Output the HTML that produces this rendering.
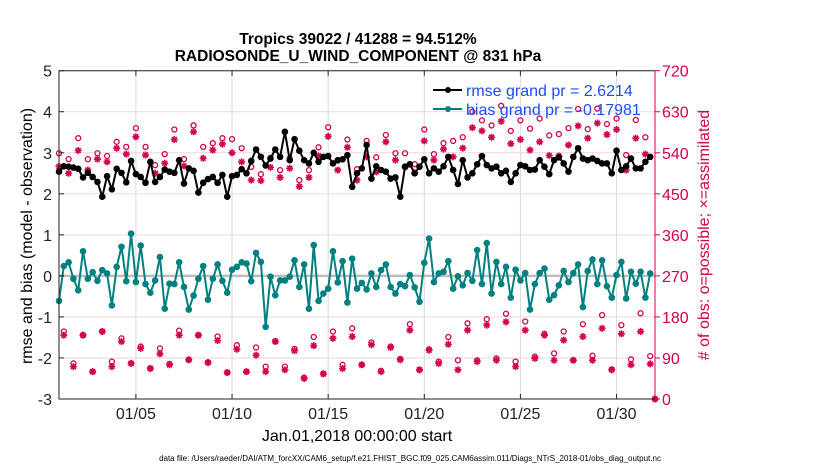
<!DOCTYPE html>
<html><head><meta charset="utf-8"><style>
html,body{margin:0;padding:0;background:#fff;}
svg{display:block;font-family:"Liberation Sans",sans-serif;}
</style></head><body>
<svg id="chart" width="830" height="470" viewBox="0 0 830 470" xmlns="http://www.w3.org/2000/svg">
<g id="grid"></g>
<g id="marks"></g>
<g id="axes"></g>
<text x="358" y="44" text-anchor="middle" font-size="15.5" font-weight="bold">Tropics 39022 / 41288 = 94.512%</text>
<text x="358" y="61" text-anchor="middle" font-size="15.5" font-weight="bold">RADIOSONDE_U_WIND_COMPONENT @ 831 hPa</text>
<text x="357" y="441" text-anchor="middle" font-size="16">Jan.01,2018 00:00:00 start</text>
<text transform="translate(32,236) rotate(-90)" text-anchor="middle" font-size="16">rmse and bias (model - observation)</text>
<text transform="translate(709,235) rotate(-90)" text-anchor="middle" font-size="16" fill="#d4004e"># of obs: o=possible; ×=assimilated</text>
<text x="410" y="461" text-anchor="middle" font-size="8">data file: /Users/raeder/DAI/ATM_forcXX/CAM6_setup/f.e21.FHIST_BGC.f09_025.CAM6assim.011/Diags_NTrS_2018-01/obs_diag_output.nc</text>
<g>
<line x1="433" y1="90" x2="462" y2="90" stroke="#000" stroke-width="2"/><circle cx="448" cy="90" r="3" fill="#000"/>
<text x="466" y="96" font-size="16" fill="#1a4dff">rmse grand pr = 2.6214</text>
<line x1="433" y1="109" x2="462" y2="109" stroke="#008080" stroke-width="2"/><circle cx="448" cy="109" r="3" fill="#008080"/>
<text x="466" y="115" font-size="16" fill="#1a4dff">bias grand pr = -0.17981</text>
</g>
</svg>
<script>
const rmse=[2.54,2.67,2.66,2.64,2.61,2.40,2.51,2.41,2.29,1.93,2.43,2.11,2.61,2.51,2.28,2.80,2.48,2.41,2.27,2.78,2.29,2.41,2.59,2.54,2.51,2.82,2.25,2.62,2.56,2.03,2.27,2.36,2.41,2.27,2.46,1.93,2.43,2.46,2.60,2.50,2.80,3.08,
2.90,2.69,2.86,3.08,2.90,3.51,2.82,3.33,3.05,2.82,2.74,3.00,2.78,2.90,2.92,2.74,2.82,2.84,2.94,2.17,2.50,2.62,3.19,2.37,2.67,2.58,2.54,2.37,2.40,1.93,2.66,2.72,2.50,2.66,2.84,2.50,2.62,2.54,2.67,2.90,2.58,2.24,
2.82,2.40,2.50,2.72,2.92,2.70,2.62,2.66,2.50,2.56,2.29,2.50,2.70,2.67,2.58,2.59,2.82,2.66,2.48,2.82,2.89,2.74,2.54,2.90,3.11,2.86,2.82,2.86,2.80,2.74,2.74,2.50,3.05,2.58,2.67,2.86,2.62,2.62,2.78,2.90];
const bias=[-0.61,0.24,0.33,-0.07,-0.35,0.60,-0.07,0.09,-0.12,0.14,0.06,-0.72,0.22,0.71,-0.13,1.03,-0.15,0.74,-0.20,-0.41,-0.11,0.46,-0.80,-0.19,-0.20,0.33,-0.27,-0.82,-0.48,-0.07,0.24,-0.58,-0.07,0.28,-0.12,-0.41,0.15,0.22,0.33,0.30,-0.13,0.56,
0.34,-1.24,-0.02,-0.47,-0.11,-0.11,-0.02,0.38,-0.27,0.28,-0.80,0.75,-0.61,-0.43,-0.31,0.60,-0.16,0.36,-0.65,0.42,-0.31,-0.17,-0.33,0.06,-0.27,0.14,0.28,-0.27,-0.43,-0.20,-0.25,0.02,-0.28,-0.63,0.32,0.91,-0.15,0.06,0.10,0.36,-0.31,-0.01,
-0.23,0.07,-0.12,0.63,-0.20,0.80,-0.43,0.34,-0.20,0.22,-0.53,0.15,-0.11,0.07,-0.82,-0.20,0.07,0.18,-0.58,-0.47,-0.23,0.12,-0.15,0.07,0.28,-0.76,0.12,0.40,-0.20,0.38,-0.25,-0.53,0.02,0.34,-0.55,0.10,-0.19,0.10,-0.53,0.06];
const possible=[539,148,526,78,572,140,526,60,539,148,533,82,564,133,553,78,594,115,553,67,513,111,537,77,591,150,526,86,600,140,553,80,561,137,572,58,570,118,550,60,509,113,493,71,529,127,502,71,528,110,480,47,502,136,552,56,596,148,523,75,569,155,504,75,566,124,530,62,579,115,539,88,539,164,515,64,591,109,537,82,561,136,566,85,574,166,630,85,611,175,600,89,643,187,588,82,611,170,593,93,615,143,578,100,581,148,594,85,636,164,592,95,637,184,603,65,615,162,535,87,612,188,574,94,0];
const assimilated=[510,140,495,71,545,140,502,60,526,148,520,71,550,126,537,78,575,111,535,67,495,99,517,75,569,140,511,86,586,140,528,80,546,128,559,58,540,109,520,60,480,96,479,60,508,126,486,64,506,106,466,45,486,117,533,55,576,133,502,67,552,137,480,75,531,119,498,60,564,113,524,86,509,151,496,64,566,107,524,78,548,120,531,64,550,151,595,82,588,162,574,85,609,169,560,71,569,151,546,89,564,140,534,85,533,129,557,85,599,137,572,85,605,155,580,64,591,143,502,75,572,148,537,77,0];
const xTickDays=[5,10,15,20,25,30];
const xTickLabels=["01/05","01/10","01/15","01/20","01/25","01/30"];
const yTicksLeft=[-3,-2,-1,0,1,2,3,4,5];
const yTicksRight=[0,90,180,270,360,450,540,630,720];
const STEP_DAYS=0.25;

const X0=59,X1=655,YT=70.7,YB=399;
const xs=d=>X0+(d-1)*(X1-X0)/31;
const tx=i=>xs(1+i*STEP_DAYS);
const yl=v=>YB-(v+3)*(YB-YT)/8;
const yr=v=>YB-v*(YB-YT)/720;
const NS="http://www.w3.org/2000/svg";
function mk(parent,tag,attrs){const e=document.createElementNS(NS,tag);for(const k in attrs)e.setAttribute(k,attrs[k]);parent.appendChild(e);return e;}
const grid=document.getElementById('grid'),marks=document.getElementById('marks'),axes=document.getElementById('axes');

yTicksLeft.forEach(v=>{
 const g=mk(grid,'line',{x1:X0,x2:X1,y1:yl(v),y2:yl(v),stroke:'#f3d3df','stroke-width':1});
 
 
 const t=mk(axes,'line',{x1:X0,x2:X0+5,y1:yl(v),y2:yl(v),stroke:'#222'});
 
 
 const l=mk(axes,'text',{x:52,y:yl(v)+6,'text-anchor':'end','font-size':16,fill:'#222'});
 l.textContent=v;
 
 
});
yTicksRight.forEach(v=>{
 const t=mk(axes,'line',{x1:X1,x2:X1+5,y1:yr(v),y2:yr(v),stroke:'#d4004e'});
 
 
 const l=mk(axes,'text',{x:662,y:yr(v)+6,'font-size':16,fill:'#d4004e'});
 l.textContent=v;
 
 
});
xTickDays.forEach((d,k)=>{
 const g=mk(grid,'line',{x1:xs(d),x2:xs(d),y1:YT,y2:YB,stroke:'#dadada','stroke-width':1});
 
 
 const t=mk(axes,'line',{x1:xs(d),x2:xs(d),y1:YB,y2:YB-5,stroke:'#222'});
 
 
 const t2=mk(axes,'line',{x1:xs(d),x2:xs(d),y1:YT,y2:YT+5,stroke:'#222'});
 
 
 const l=mk(axes,'text',{x:xs(d),y:419,'text-anchor':'middle','font-size':16,fill:'#222'});
 l.textContent=xTickLabels[k];
 
 
});
const zl=mk(grid,'line',{x1:X0,x2:X1,y1:yl(0),y2:yl(0),stroke:'#bdbdbd','stroke-width':2.5});



function star(x,y,r){let d='';for(let k=0;k<4;k++){const a=k*Math.PI/4;d+=`M${x-r*Math.cos(a)},${y-r*Math.sin(a)}L${x+r*Math.cos(a)},${y+r*Math.sin(a)}`;}return d;}
possible.forEach((v,i)=>{
 const c=mk(marks,'circle',{cx:tx(i),cy:yr(v),r:2.5,fill:'none',stroke:'#d4004e','stroke-width':1.3});
 
 
});
assimilated.forEach((v,i)=>{
 const p=mk(marks,'path',{d:star(tx(i),yr(v),3.5),stroke:'#d4004e','stroke-width':1.6,fill:'none'});
 
 
});
function series(arr,color,name){
 const pl=mk(marks,'polyline',{points:arr.map((v,i)=>tx(i)+','+yl(v)).join(' '),fill:'none',stroke:color,'stroke-width':2});
 
 
 arr.forEach((v,i)=>{
  const c=mk(marks,'circle',{cx:tx(i),cy:yl(v),r:3.3,fill:color});
  
  
 });
}
series(bias,'#008080','bias');
series(rmse,'#000000','rmse');

const b1=mk(axes,'path',{d:`M${X1},${YT}L${X0},${YT}L${X0},${YB}L${X1},${YB}`,fill:'none',stroke:'#222','stroke-width':1});


const b2=mk(axes,'line',{x1:X1,x2:X1,y1:YT,y2:YB,stroke:'#d4004e','stroke-width':1});


</script>
</body></html>
